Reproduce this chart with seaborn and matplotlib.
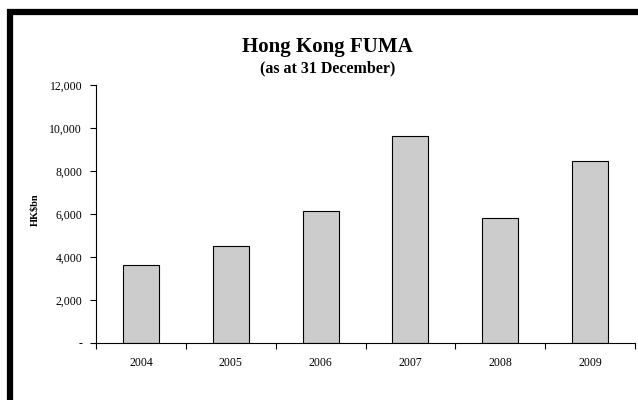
import matplotlib
matplotlib.use("Agg")
import matplotlib.pyplot as plt
from matplotlib.patches import Rectangle
from matplotlib.ticker import FuncFormatter, FixedLocator
import seaborn as sns
import pandas as pd

years = ["2004", "2005", "2006", "2007", "2008", "2009"]
fuma = [3615, 4510, 6140, 9620, 5830, 8480]
y_ticks = [0, 2000, 4000, 6000, 8000, 10000, 12000]

sns.set_style("ticks")
plt.rcParams["font.family"] = ["Liberation Serif", "DejaVu Serif"]
plt.rcParams["text.color"] = "black"

df = pd.DataFrame({"year": years, "fuma": fuma})

fig = plt.figure(figsize=(6.38, 4.0), dpi=100)
ax = fig.add_axes([96 / 638, 1 - 343 / 400, (635 - 96) / 638, (343 - 85) / 400])

sns.barplot(data=df, x="year", y="fuma", color="#cccccc", saturation=1,
            edgecolor="black", linewidth=0.8, width=0.4, ax=ax)

ax.set_xlim(-0.5, len(years) - 0.5)
ax.set_ylim(0, 12000)
ax.set_yticks(y_ticks)
ax.yaxis.set_major_formatter(FuncFormatter(lambda v, p: "-" if v == 0 else f"{v:,.0f}"))
ax.tick_params(axis="y", direction="out", length=4, width=0.8, pad=6,
               labelsize=8.5, colors="black")

# category labels centred, tick marks between categories
ax.tick_params(axis="x", which="major", length=0, pad=10, labelsize=8.5, colors="black")
ax.xaxis.set_minor_locator(FixedLocator([i - 0.5 for i in range(len(years) + 1)]))
ax.tick_params(axis="x", which="minor", direction="out", length=4, width=0.8, color="black")

for s in ["top", "right"]:
    ax.spines[s].set_visible(False)
for s in ["left", "bottom"]:
    ax.spines[s].set_color("black")
    ax.spines[s].set_linewidth(0.8)

ax.set_xlabel("")
ax.set_ylabel("")
fig.text(35 / 638, 1 - 210 / 400, "HK\\$bn", rotation=90, ha="center", va="center",
         fontsize=7.5, fontweight="bold", color="black")

fig.text(0.513, 1 - 47 / 400, "Hong Kong FUMA", ha="center", va="center",
         fontsize=15, fontweight="bold", color="black")
fig.text(0.513, 1 - 68 / 400, "(as at 31 December)", ha="center", va="center",
         fontsize=11.5, fontweight="bold", color="black")

# thick outer frame
fig.patches.append(Rectangle((9.5 / 638, -0.1), 1.2, 1 - 12 / 400 + 0.1,
                             transform=fig.transFigure, fill=False,
                             edgecolor="black", linewidth=4.5, clip_on=False))

fig.savefig("out.png", dpi=100)
